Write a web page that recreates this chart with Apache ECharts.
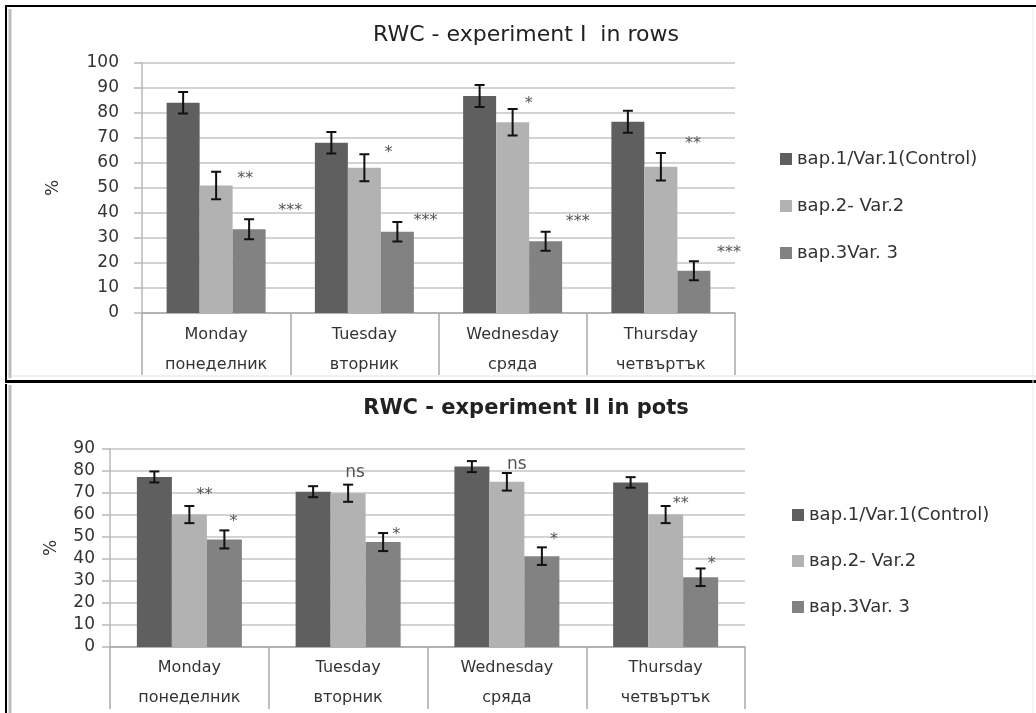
<!DOCTYPE html>
<html><head><meta charset="utf-8">
<script src="https://cdn.jsdelivr.net/npm/echarts@6/dist/echarts.min.js"></script>
<style>html,body{margin:0;padding:0;background:#fff}#c{width:1036px;height:713px}</style>
</head><body><div id="c"></div>
<script>
// ---- data ----
const categories = ['Monday\nпонеделник', 'Tuesday\nвторник', 'Wednesday\nсряда', 'Thursday\nчетвъртък'];
const seriesNames = ['вар.1/Var.1(Control)', 'вар.2- Var.2', 'вар.3Var. 3'];
const yTicks1 = [0, 100, 10];
const yTicks2 = [0, 90, 10];

// Experiment I in rows
const exp1Var1 = [84.1, 68.1, 86.8, 76.5];
const exp1Var2 = [51.0, 58.1, 76.3, 58.5];
const exp1Var3 = [33.5, 32.5, 28.7, 16.9];
const exp1Err1 = [4.3, 4.3, 4.4, 4.4];
const exp1Err2 = [5.5, 5.4, 5.3, 5.5];
const exp1Err3 = [4.0, 3.9, 3.8, 3.8];
const exp1Sig2 = ['**', '*', '*', '**'];
const exp1Sig3 = ['***', '***', '***', '***'];

// Experiment II in pots
const exp2Var1 = [77.3, 70.6, 82.0, 74.8];
const exp2Var2 = [60.2, 69.9, 75.1, 60.2];
const exp2Var3 = [48.9, 47.7, 41.3, 31.7];
const exp2Err1 = [2.5, 2.5, 2.5, 2.4];
const exp2Err2 = [3.9, 3.9, 4.0, 3.9];
const exp2Err3 = [4.1, 4.1, 4.0, 4.0];
const exp2Sig2 = ['**', 'ns', 'ns', '**'];
const exp2Sig3 = ['*', '*', '*', '*'];

// ---- styling (pixel offsets of significance labels from error-bar tops) ----
const sigOffset1 = { 1: [[29, 2], [24, -6], [16, -10], [32, -14]], 2: [[41, -13], [28, -6], [32, -15], [35, -13]] };
const sigOffset2 = { 1: [[15, -16], [7, -12], [10, -8], [15, -7]], 2: [[9, -14], [13, -3], [12, -12], [11, -10]] };

const colors = ['#5f5f5f', '#b2b2b2', '#828282'];
const FONT = 'DejaVu Sans';

function errData(means, errs, sigs) {
  const out = [];
  means.forEach((m, s) => {
    m.forEach((v, i) => out.push([i, v, errs[s][i], s, sigs[s] ? sigs[s][i] : '']));
  });
  return out;
}

function makeErrSeries(gridIdx, bw, means, errs, sigs, offsets) {
  return {
    type: 'custom', xAxisIndex: gridIdx, yAxisIndex: gridIdx, silent: true, z: 10,
    data: errData(means, errs, sigs),
    encode: { x: 0, y: 1 },
    renderItem: function (params, api) {
      const ci = api.value(0), v = api.value(1), e = api.value(2), s = api.value(3);
      const c = api.coord([ci, v]);
      const x = c[0] + (s - 1) * bw;
      const yt = api.coord([ci, v + e])[1];
      const yb = api.coord([ci, v - e])[1];
      const cap = 5;
      const st = { stroke: '#111', lineWidth: 2 };
      const children = [
        { type: 'line', shape: { x1: x, y1: yt, x2: x, y2: yb }, style: st },
        { type: 'line', shape: { x1: x - cap, y1: yt, x2: x + cap, y2: yt }, style: st },
        { type: 'line', shape: { x1: x - cap, y1: yb, x2: x + cap, y2: yb }, style: st }
      ];
      const sig = sigs[s] ? sigs[s][ci] : '';
      if (sig) {
        const off = offsets[s][ci];
        const isStar = sig.indexOf('*') >= 0;
        children.push({
          type: 'text',
          style: {
            x: x + off[0], y: yt + off[1] + (isStar ? 5 : 0), text: sig,
            textAlign: 'center', textVerticalAlign: 'middle',
            fontFamily: FONT, fontSize: isStar ? 16 : 17, fill: '#555'
          }
        });
      }
      return { type: 'group', children: children };
    }
  };
}

function bars(gridIdx, bw, vals) {
  return vals.map((d, s) => ({
    type: 'bar', name: seriesNames[s], xAxisIndex: gridIdx, yAxisIndex: gridIdx,
    data: d, barWidth: bw, barGap: '0%', itemStyle: { color: colors[s] }
  }));
}

function xAxis(gridIdx, tickLen, margin) {
  return {
    type: 'category', gridIndex: gridIdx, data: categories,
    axisLine: { lineStyle: { color: '#a8a8a8', width: 1.5 } },
    axisTick: { show: true, length: tickLen, lineStyle: { color: '#a8a8a8', width: 1.5 } },
    axisLabel: { color: '#333', fontFamily: FONT, fontSize: 16, lineHeight: 30, margin: margin }
  };
}
function yAxis(gridIdx, t, nameGap, labelMargin) {
  return {
    type: 'value', gridIndex: gridIdx, min: t[0], max: t[1], interval: t[2],
    name: '%', nameLocation: 'middle', nameGap: nameGap, nameRotate: 90,
    nameTextStyle: { color: '#333', fontFamily: FONT, fontSize: 17 },
    axisLine: { show: true, lineStyle: { color: '#b8b8b8', width: 1.5 } },
    axisTick: { show: true, length: 8, lineStyle: { color: '#b8b8b8', width: 1.5 } },
    axisLabel: { color: '#333', fontFamily: FONT, fontSize: 17, margin: labelMargin },
    splitLine: { lineStyle: { color: '#c4c4c4', width: 1.5 } }
  };
}

const chart = echarts.init(document.getElementById('c'), null, { renderer: 'canvas' });
const legendText = { fontFamily: FONT, fontSize: 18, color: '#333' };
const option = {
  backgroundColor: '#fff',
  animation: false,
  title: [
    { text: 'RWC - experiment I  in rows', left: 521, textAlign: 'center', top: 19,
      textStyle: { fontFamily: FONT, fontSize: 22, fontWeight: 'normal', color: '#222' } },
    { text: 'RWC - experiment II in pots', left: 521, textAlign: 'center', top: 393,
      textStyle: { fontFamily: FONT, fontSize: 21, fontWeight: 'bold', color: '#222' } }
  ],
  legend: [
    { orient: 'vertical', left: 775, top: 145, itemWidth: 12, itemHeight: 12, itemGap: 29, icon: 'rect',
      data: seriesNames, textStyle: legendText, selectedMode: false },
    { orient: 'vertical', left: 787, top: 501, itemWidth: 12, itemHeight: 12, itemGap: 28, icon: 'rect',
      data: seriesNames, textStyle: legendText, selectedMode: false }
  ],
  grid: [
    { left: 142, right: 301, top: 63, bottom: 400 },
    { left: 110, right: 291, top: 449, bottom: 62 }
  ],
  xAxis: [xAxis(0, 62, 7), xAxis(1, 62, 6)],
  yAxis: [yAxis(0, yTicks1, 80, 23), yAxis(1, yTicks2, 50, 15)],
  series: [].concat(
    bars(0, 33, [exp1Var1, exp1Var2, exp1Var3]),
    [makeErrSeries(0, 33, [exp1Var1, exp1Var2, exp1Var3], [exp1Err1, exp1Err2, exp1Err3], [null, exp1Sig2, exp1Sig3], sigOffset1)],
    bars(1, 35, [exp2Var1, exp2Var2, exp2Var3]),
    [makeErrSeries(1, 35, [exp2Var1, exp2Var2, exp2Var3], [exp2Err1, exp2Err2, exp2Err3], [null, exp2Sig2, exp2Sig3], sigOffset2)]
  ),
  graphic: [
    { type: 'line', shape: { x1: 5, y1: 6, x2: 1036, y2: 6 }, style: { stroke: '#000', lineWidth: 2 } },
    { type: 'line', shape: { x1: 6, y1: 5, x2: 6, y2: 380 }, style: { stroke: '#000', lineWidth: 2 } },
    { type: 'line', shape: { x1: 6, y1: 384, x2: 6, y2: 713 }, style: { stroke: '#000', lineWidth: 2 } },
    { type: 'line', shape: { x1: 5, y1: 381.5, x2: 1036, y2: 381.5 }, style: { stroke: '#000', lineWidth: 3 } },
    { type: 'line', shape: { x1: 10, y1: 9, x2: 10, y2: 378 }, style: { stroke: '#bdbdbd', lineWidth: 3 } },
    { type: 'line', shape: { x1: 10, y1: 385, x2: 10, y2: 713 }, style: { stroke: '#bdbdbd', lineWidth: 3 } },
    { type: 'line', shape: { x1: 10, y1: 376, x2: 1036, y2: 376 }, style: { stroke: '#e2e2e2', lineWidth: 1 } },
    { type: 'line', shape: { x1: 1033, y1: 9, x2: 1033, y2: 713 }, style: { stroke: '#ececec', lineWidth: 1 } }
  ]
};
chart.setOption(option);
</script>
</body></html>
